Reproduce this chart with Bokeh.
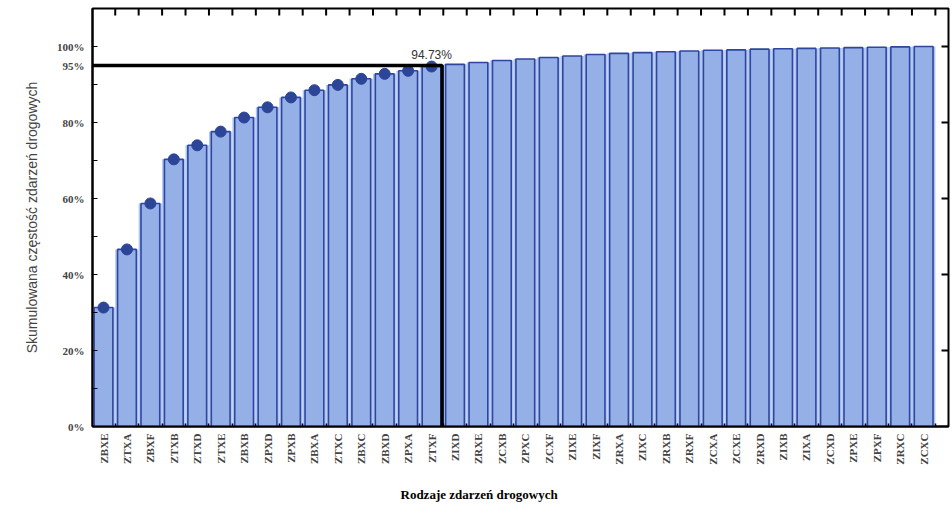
import math
from bokeh.plotting import figure
from bokeh.models import ColumnDataSource, FixedTicker, Range1d, Title
from bokeh.core.properties import value
from bokeh.embed import file_html
from bokeh.resources import INLINE

categories = ["ZBXE", "ZTXA", "ZBXF", "ZTXB", "ZTXD", "ZTXE", "ZBXB", "ZPXD", "ZPXB",
              "ZBXA", "ZTXC", "ZBXC", "ZBXD", "ZPXA", "ZTXF", "ZIXD", "ZRXE", "ZCXB",
              "ZPXC", "ZCXF", "ZIXE", "ZIXF", "ZRXA", "ZIXC", "ZRXB", "ZRXF", "ZCXA",
              "ZCXE", "ZRXD", "ZIXB", "ZIXA", "ZCXD", "ZPXE", "ZPXF", "ZRXC", "ZCXC"]
cumulative = [31.3, 46.6, 58.7, 70.3, 74.0, 77.6, 81.3, 84.0, 86.6,
              88.5, 89.9, 91.5, 92.8, 93.6, 94.73, 95.3, 95.8, 96.3,
              96.7, 97.1, 97.5, 97.9, 98.2, 98.4, 98.6, 98.8, 99.0,
              99.1, 99.3, 99.4, 99.5, 99.6, 99.7, 99.8, 99.9, 100.0]
cut_category = "ZTXF"
cut_text = "94.73%"
threshold = 95
y_major = [0, 20, 40, 60, 80, 95, 100]
y_minor = [10, 30, 50, 70, 90]
y_right = [20, 40, 60, 80, 100]
x_title = "Rodzaje zdarzeń drogowych"
y_title = "Skumulowana częstość zdarzeń drogowych"

xs = list(range(len(categories)))
bounds = [i + 0.5 for i in xs]
cut = categories.index(cut_category)
src = ColumnDataSource(dict(x=xs, y=cumulative))
dots = ColumnDataSource(dict(x=xs[:cut + 1], y=cumulative[:cut + 1]))

SERIF = "Liberation Serif"
SANS = "Liberation Sans"

X0, X1, Y0, Y1 = -0.47, 36.06, 0.0, 110.0
p = figure(width=950, height=518, x_range=Range1d(X0, X1), y_range=Range1d(Y0, Y1),
           output_backend="svg", toolbar_location=None,
           min_border_left=92, min_border_right=2, min_border_top=8, min_border_bottom=91)
p.grid.visible = False
p.outline_line_color = "black"
p.outline_line_width = 2
p.background_fill_color = "white"

# bars
p.vbar(x="x", top="y", width=1.0, source=src, fill_color="#b0c5f0", line_color=None)
p.vbar(x="x", top="y", width=0.8, source=src, fill_color="#95afe7",
       line_color="#2d47a0", line_width=1.6)
p.scatter(x="x", y="y", source=dots, size=11, color="#2c4596")

# threshold line
xc = cut + 0.45
p.line(x=[X0, xc, xc], y=[threshold, threshold, 0], line_color="black", line_width=3.5)
p.text(x=[cut], y=[cumulative[cut]], text=[cut_text], text_font=value(SANS),
       text_font_size="12px", text_color="#333333", text_align="center",
       text_baseline="bottom", y_offset=-5)

# inward ticks on top and right edges
tick_dy = (Y1 - Y0) * 7 / 419.0
tick_dx = (X1 - X0) * 7 / 856.0
top_src = ColumnDataSource(dict(x=bounds, y0=[Y1] * len(bounds), y1=[Y1 - tick_dy] * len(bounds)))
right_src = ColumnDataSource(dict(y=y_right, x0=[X1] * len(y_right), x1=[X1 - tick_dx] * len(y_right)))
p.segment(x0="x", x1="x", y0="y0", y1="y1", source=top_src, line_color="black", line_width=2)
p.segment(x0="x0", x1="x1", y0="y", y1="y", source=right_src, line_color="black", line_width=2)

# bottom axis
xa = p.xaxis[0]
xa.ticker = FixedTicker(ticks=xs, minor_ticks=bounds)
xa.major_label_overrides = {i: c for i, c in enumerate(categories)}
xa.major_label_orientation = math.pi / 2
xa.major_label_text_font = SERIF
xa.major_label_text_font_style = "bold"
xa.major_label_text_font_size = "11px"
xa.major_label_standoff = 7
xa.major_tick_in = 0
xa.major_tick_out = 0
xa.minor_tick_in = 3
xa.minor_tick_out = 0
xa.minor_tick_line_width = 1.5
xa.axis_line_width = 2

# x title, placed left of centre as in the reference
xt = Title(text=x_title, align="left", offset=308, text_font=SERIF,
           text_font_style="bold", text_font_size="13px", text_color="black")
if hasattr(xt, "standoff"):
    xt.standoff = 34
p.add_layout(xt, "below")

# left axis
ya = p.yaxis[0]
ya.ticker = FixedTicker(ticks=y_major, minor_ticks=y_minor)
ya.major_label_overrides = {t: f"{t}%" for t in y_major}
ya.major_label_text_font = SERIF
ya.major_label_text_font_style = "bold"
ya.major_label_text_font_size = "11px"
ya.major_label_standoff = 8
ya.major_tick_in = 5
ya.major_tick_out = 0
ya.minor_tick_in = 5
ya.minor_tick_out = 0
ya.axis_line_width = 2
ya.axis_label = y_title
ya.axis_label_text_font = SANS
ya.axis_label_text_font_style = "normal"
ya.axis_label_text_font_size = "14px"
ya.axis_label_standoff = 14

open("out.html", "w").write(file_html(p, INLINE))
